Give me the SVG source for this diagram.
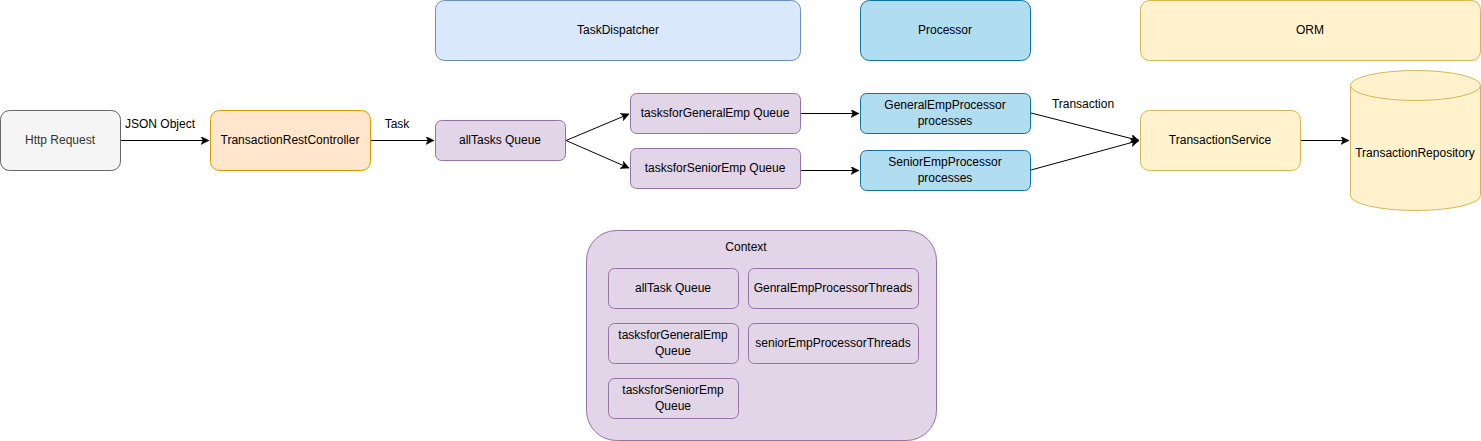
<svg xmlns="http://www.w3.org/2000/svg" width="1481" height="441" viewBox="0 0 1481 441">
<style>
text{font-family:"Liberation Sans",Arial,sans-serif;font-size:12px;fill:#000;text-anchor:middle;dominant-baseline:central}
.purple{fill:#e1d5e7;stroke:#9673a6;stroke-width:1}
.blue{fill:#b1ddf0;stroke:#10739e;stroke-width:1}
.lblue{fill:#dae8fc;stroke:#6c8ebf;stroke-width:1}
.yellow{fill:#fff2cc;stroke:#d6b656;stroke-width:1}
.orange{fill:#ffe6cc;stroke:#d79b00;stroke-width:1}
.gray{fill:#f5f5f5;stroke:#666666;stroke-width:1}
.edge{stroke:#000;stroke-width:1;fill:none;marker-end:url(#arr)}
</style>
<defs>
<marker id="arr" markerWidth="10" markerHeight="10" refX="8" refY="4" orient="auto" markerUnits="userSpaceOnUse">
<path d="M0,0 L8,4 L0,8 L2,4 z" fill="#000" stroke="#000" stroke-width="0.5"/>
</marker>
</defs>
<rect width="1481" height="441" fill="#fff"/>
<g id="taskdispatcher"><rect class="lblue" x="435.5" y="0.5" width="365" height="60" rx="9"/><text x="618" y="30">TaskDispatcher</text></g>
<g id="processor"><rect class="blue" x="860.5" y="0.5" width="170" height="60" rx="9"/><text x="945" y="30">Processor</text></g>
<g id="orm"><rect class="yellow" x="1140.5" y="0.5" width="340" height="60" rx="9"/><text x="1310" y="30">ORM</text></g>
<g id="http"><rect class="gray" x="0.5" y="110.5" width="120" height="60" rx="9"/><text x="60" y="140" style="fill:#333">Http Request</text></g>
<g id="controller"><rect class="orange" x="210.5" y="110.5" width="160" height="60" rx="9"/><text x="290" y="140">TransactionRestController</text></g>
<g id="alltasks"><rect class="purple" x="435.5" y="120.5" width="130" height="40" rx="6"/><text x="500" y="140">allTasks Queue</text></g>
<g id="tasksgeneral"><rect class="purple" x="630.5" y="93.5" width="170" height="40" rx="6"/><text x="715" y="113">tasksforGeneralEmp Queue</text></g>
<g id="taskssenior"><rect class="purple" x="630.5" y="148.5" width="170" height="40" rx="6"/><text x="715" y="168">tasksforSeniorEmp Queue</text></g>
<g id="generalproc"><rect class="blue" x="860.5" y="93.5" width="170" height="40" rx="6"/><text x="945" y="105">GeneralEmpProcessor</text><text x="945" y="121">processes</text></g>
<g id="seniorproc"><rect class="blue" x="860.5" y="150.5" width="170" height="40" rx="6"/><text x="945" y="162">SeniorEmpProcessor</text><text x="945" y="178">processes</text></g>
<g id="service"><rect class="yellow" x="1140.5" y="110.5" width="160" height="60" rx="9"/><text x="1220" y="140">TransactionService</text></g>
<g id="repository">
<path class="yellow" d="M1350.5,85.5 A65,15 0 0 1 1480.5,85.5 L1480.5,195.5 A65,15 0 0 1 1350.5,195.5 Z"/>
<path d="M1350.5,85.5 A65,15 0 0 0 1480.5,85.5" fill="none" stroke="#d6b656"/>
<text x="1415" y="153">TransactionRepository</text>
</g>
<g id="context">
<rect class="purple" x="586.5" y="230.5" width="350" height="210" rx="30"/>
<text x="746" y="247">Context</text>
<rect class="purple" x="608.5" y="268.5" width="130" height="40" rx="6"/><text x="673" y="288">allTask Queue</text>
<rect class="purple" x="748.5" y="268.5" width="170" height="40" rx="6"/><text x="833" y="288">GenralEmpProcessorThreads</text>
<rect class="purple" x="608.5" y="323.5" width="130" height="40" rx="6"/><text x="673" y="335">tasksforGeneralEmp</text><text x="673" y="351">Queue</text>
<rect class="purple" x="748.5" y="323.5" width="170" height="40" rx="6"/><text x="833" y="343">seniorEmpProcessorThreads</text>
<rect class="purple" x="608.5" y="378.5" width="130" height="40" rx="6"/><text x="673" y="390">tasksforSeniorEmp</text><text x="673" y="406">Queue</text>
</g>
<g id="connectors">
<path class="edge" d="M121,140.5 L209,140.5"/>
<text x="160" y="124">JSON Object</text>
<path class="edge" d="M371,140.5 L434,140.5"/>
<text x="397" y="124">Task</text>
<path class="edge" d="M566,140.5 L629,114"/>
<path class="edge" d="M566,140.5 L629,168"/>
<path class="edge" d="M801,113.5 L859,113.5"/>
<path class="edge" d="M801,170.5 L859,170.5"/>
<path class="edge" d="M1031,113 L1139,140.5"/>
<text x="1083" y="104">Transaction</text>
<path class="edge" d="M1031,170 L1139,140.5"/>
<path class="edge" d="M1301,140.5 L1349,140.5"/>
</g>
</svg>
